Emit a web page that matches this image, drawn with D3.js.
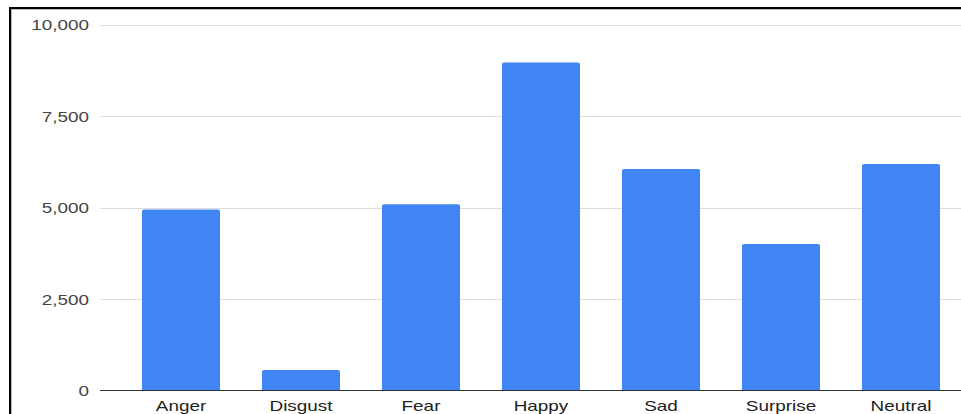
<!DOCTYPE html>
<html>
<head>
<meta charset="utf-8">
<script src="https://cdn.jsdelivr.net/npm/d3@7"></script>
<style>
  html, body { margin: 0; padding: 0; background: #fff; }
  svg { display: block; }
</style>
</head>
<body>
<svg id="chart" width="961" height="414"></svg>
<script>
// Emotion class counts
const categories = ["Anger", "Disgust", "Fear", "Happy", "Sad", "Surprise", "Neutral"];
const counts = [4945, 560, 5090, 8960, 6055, 4000, 6190];
const yTicks = [0, 2500, 5000, 7500, 10000];

const svg = d3.select("#chart");
const W = 961, H = 414;
const font = "'Liberation Sans', Arial, sans-serif";
const stretch = "scale(1.35,1)";   // wide-set label lettering

// Frame around the chart
svg.append("rect")
  .attr("x", 11).attr("y", 9).attr("width", 1000).attr("height", 500)
  .attr("fill", "none").attr("stroke", "#bbb").attr("stroke-width", 2);
svg.append("rect")
  .attr("x", 10).attr("y", 8).attr("width", 1000).attr("height", 500)
  .attr("fill", "none").attr("stroke", "#000").attr("stroke-width", 2);

const y = d3.scaleLinear().domain([0, 10000]).range([390.5, 24.5]);
const x = d3.scaleBand().domain(categories).range([121, 961]).paddingInner(0.35).paddingOuter(0.175);

// Value labels
const yAxis = d3.axisLeft(y).tickValues(yTicks).tickFormat(d3.format(",")).tickSize(0).tickPadding(0);
const gy = svg.append("g").attr("transform", "translate(89,0)").call(yAxis);
gy.select(".domain").remove();
gy.selectAll("text")
  .attr("font-family", font).attr("font-size", 14).attr("fill", "#444")
  .attr("dy", "0.36em").attr("transform", stretch);

// Gridlines
svg.append("g").selectAll("line").data(yTicks.filter(d => d > 0)).join("line")
  .attr("x1", 100).attr("x2", W)
  .attr("y1", d => Math.round(y(d)) + 0.5).attr("y2", d => Math.round(y(d)) + 0.5)
  .attr("stroke", "#ddd").attr("stroke-width", 1.2);

// Bars
svg.append("g").selectAll("path").data(categories).join("path")
  .attr("fill", "#4285F4")
  .attr("d", (c, i) => {
    const x0 = x(c), w = x.bandwidth(), y0 = y(counts[i]), y1 = y(0), r = 2;
    return `M${x0},${y1}V${y0 + r}Q${x0},${y0} ${x0 + r},${y0}H${x0 + w - r}Q${x0 + w},${y0} ${x0 + w},${y0 + r}V${y1}Z`;
  });

// Baseline
svg.append("line")
  .attr("x1", 100).attr("x2", W)
  .attr("y1", y(0)).attr("y2", y(0))
  .attr("stroke", "#333").attr("stroke-width", 1.2);

// Category labels
const xAxis = d3.axisBottom(x).tickSize(0).tickPadding(0);
const gx = svg.append("g").attr("transform", `translate(0,${y(0)})`).call(xAxis);
gx.select(".domain").remove();
gx.selectAll("text")
  .attr("font-family", font).attr("font-size", 14).attr("fill", "#222")
  .attr("y", 0).attr("dy", "20.5").attr("transform", stretch);
</script>
</body>
</html>
